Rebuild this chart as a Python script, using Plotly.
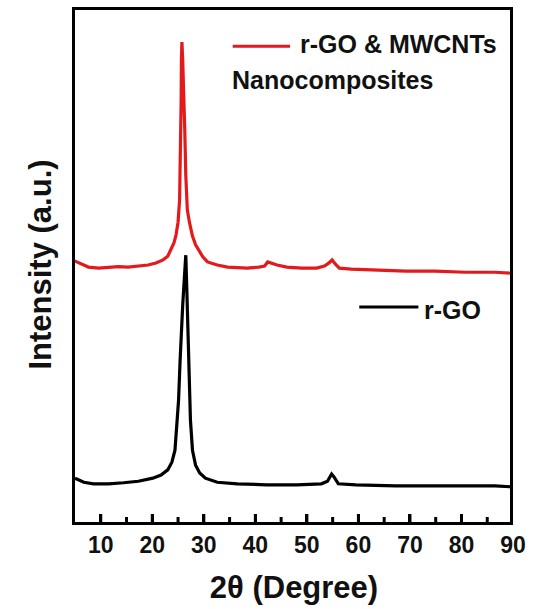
import plotly.graph_objects as go

# r-GO & MWCNTs nanocomposites (red, offset trace)
theta_red = [4.9, 6.1, 7.6, 9.6, 11.5, 13.4, 15.3, 17.3, 19.2, 20.7, 22.1, 23.0, 23.6, 24.2,
             24.6, 25.0, 25.3, 25.5, 25.6, 25.65, 25.75, 25.9, 26.1, 26.3, 26.5, 26.8, 27.2,
             27.8, 28.4, 29.1, 29.8, 30.7, 32.6, 34.6, 38.4, 40.7, 41.8, 42.4, 43.0, 44.2,
             46.1, 49.0, 51.9, 53.4, 54.3, 54.9, 55.5, 56.3, 58.6, 63.4, 69.2, 74.9, 80.7,
             86.5, 90.0]
int_red = [508, 502, 496, 494, 495, 497, 496, 498, 500, 504, 510, 517, 529, 543,
           558, 583, 626, 723, 820, 897, 932, 897, 839, 762, 674, 607, 583,
           556, 539, 527, 516, 506, 500, 496, 494, 496, 498, 506, 504, 500,
           496, 494, 494, 498, 504, 510, 502, 494, 492, 490, 488, 488, 486,
           486, 484]

# r-GO (black)
theta_black = [5.0, 6.7, 8.6, 11.5, 14.4, 17.3, 20.1, 21.7, 23.0, 23.8, 24.4, 24.7, 25.1,
               25.4, 25.7, 25.9, 26.2, 26.5, 26.7, 26.9, 27.2, 27.4, 27.8, 28.4, 29.2,
               30.3, 32.6, 36.5, 42.2, 48.0, 52.8, 54.0, 54.8, 55.3, 56.1, 59.5, 67.2,
               76.8, 86.5, 90.0]
int_black = [87, 79, 76, 76, 78, 81, 87, 93, 103, 118, 141, 180, 238,
             316, 393, 422, 471, 519, 452, 374, 277, 200, 141, 112, 97,
             87, 79, 76, 74, 74, 76, 81, 95, 89, 76, 74, 72,
             72, 72, 70]

x_major_ticks = [10, 20, 30, 40, 50, 60, 70, 80, 90]
x_minor_ticks = [15, 25, 35, 45, 55, 65, 75, 85]
x_range = [5, 90]
y_range = [2, 1000]

FONT = "Arial"
INK = "#000000"
W, H = 533, 609
M = dict(l=75, r=14, t=7, b=87)
plot_h = H - M["t"] - M["b"]
units_per_px = (y_range[1] - y_range[0]) / plot_h
LW = 3

fig = go.Figure()
fig.add_trace(go.Scatter(x=theta_red, y=int_red, mode="lines",
                         line=dict(color="#e31a1c", width=3.2), name="r-GO & MWCNTs Nanocomposites",
                         showlegend=False))
fig.add_trace(go.Scatter(x=theta_black, y=int_black, mode="lines",
                         line=dict(color=INK, width=3.2), name="r-GO",
                         showlegend=False))

# top and right edges of the box, along the axis range limits
fig.add_trace(go.Scatter(x=[x_range[0], x_range[1], x_range[1]],
                         y=[y_range[1], y_range[1], y_range[0]],
                         mode="lines", line=dict(color=INK, width=2 * LW),
                         showlegend=False, hoverinfo="skip"))

# inward x tick marks drawn through the axis scales
tick_x, tick_y = [], []
for v in x_major_ticks:
    tick_x += [v, v, None]
    tick_y += [y_range[0], y_range[0] + 8 * units_per_px, None]
for v in x_minor_ticks:
    tick_x += [v, v, None]
    tick_y += [y_range[0], y_range[0] + 5 * units_per_px, None]
fig.add_trace(go.Scatter(x=tick_x, y=tick_y, mode="lines", connectgaps=False,
                         line=dict(color=INK, width=3), showlegend=False, hoverinfo="skip"))

# custom legend
fig.add_shape(type="line", xref="paper", yref="paper", x0=0.360, x1=0.491, y0=0.924, y1=0.924,
              line=dict(color="#e31a1c", width=3))
fig.add_shape(type="line", xref="paper", yref="paper", x0=0.649, x1=0.784, y0=0.4175, y1=0.4175,
              line=dict(color=INK, width=3))
fig.add_annotation(text="<b>r-GO & MWCNTs</b>", xref="paper", yref="paper", x=0.509, y=0.928,
                   xanchor="left", yanchor="middle", showarrow=False,
                   font=dict(family=FONT, size=25, color="#111111"))
fig.add_annotation(text="<b>Nanocomposites</b>", xref="paper", yref="paper", x=0.354, y=0.858,
                   xanchor="left", yanchor="middle", showarrow=False,
                   font=dict(family=FONT, size=25, color="#111111"))
fig.add_annotation(text="<b>r-GO</b>", xref="paper", yref="paper", x=0.793, y=0.412,
                   xanchor="left", yanchor="middle", showarrow=False,
                   font=dict(family=FONT, size=25, color="#111111"))

fig.update_layout(
    width=W, height=H,
    margin=M,
    plot_bgcolor="#ffffff", paper_bgcolor="#ffffff",
    font=dict(family=FONT, color="#111111"),
    xaxis=dict(
        range=x_range, showgrid=False, zeroline=False,
        showline=True, linecolor=INK, linewidth=LW, mirror=False,
        tickmode="array", tickvals=x_major_ticks,
        ticktext=[f"<b>{v}</b>" for v in x_major_ticks],
        ticks="inside", ticklen=8, tickwidth=3, tickcolor=INK,
        tickfont=dict(family=FONT, size=23, color="#111111"),
        title=dict(text="<b>2θ (Degree)</b>", standoff=20,
                   font=dict(family=FONT, size=31, color="#111111")),
    ),
    yaxis=dict(
        range=y_range, showgrid=False, zeroline=False,
        showline=True, linecolor=INK, linewidth=LW, mirror=False,
        ticks="", showticklabels=False,
        title=dict(text="<b>Intensity (a.u.)</b>", standoff=12,
                   font=dict(family=FONT, size=31, color="#111111")),
    ),
)

fig.write_html("out.html", config={"displayModeBar": False, "staticPlot": True},
               post_script="document.body.style.margin='0';document.body.style.overflow='hidden';")
